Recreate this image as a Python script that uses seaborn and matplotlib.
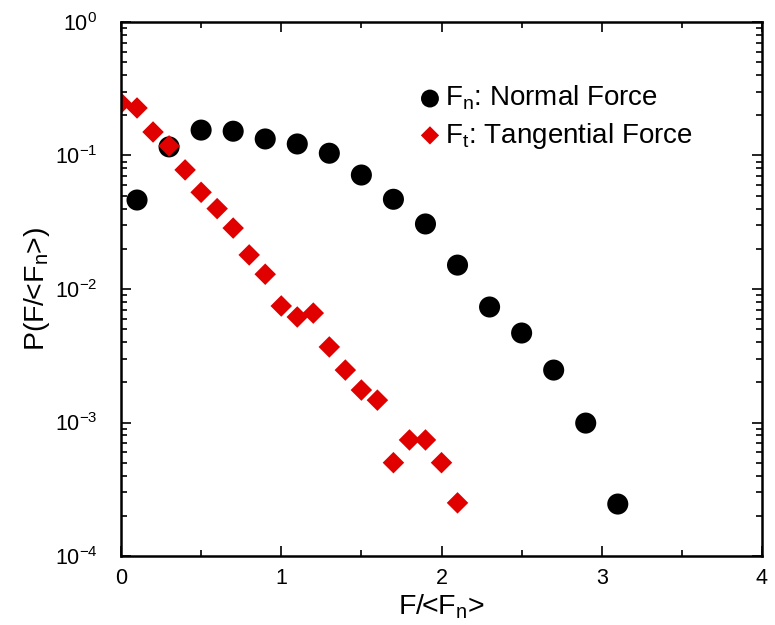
import matplotlib
matplotlib.use("Agg")
import matplotlib.pyplot as plt
import seaborn as sns
import pandas as pd
import numpy as np
from matplotlib.ticker import MultipleLocator, LogLocator, NullFormatter

# Data
fn_x = [0.1, 0.3, 0.5, 0.7, 0.9, 1.1, 1.3, 1.5, 1.7, 1.9, 2.1, 2.3, 2.5, 2.7, 2.9, 3.1]
fn_y = [0.0464, 0.116, 0.155, 0.152, 0.133, 0.122, 0.104, 0.0714, 0.047, 0.0307,
        0.0151, 0.00733, 0.00468, 0.00247, 0.00099, 0.000245]
ft_x = [0.0, 0.1, 0.2, 0.3, 0.4, 0.5, 0.6, 0.7, 0.8, 0.9, 1.0, 1.1, 1.2, 1.3, 1.4,
        1.5, 1.6, 1.7, 1.8, 1.9, 2.0, 2.1]
ft_y = [0.247, 0.227, 0.150, 0.118, 0.078, 0.053, 0.040, 0.0286, 0.018, 0.0129,
        0.00746, 0.00617, 0.0066, 0.00368, 0.00247, 0.00175, 0.00147, 0.0005,
        0.00074, 0.00074, 0.0005, 0.00025]
labels = [r"F$_\mathregular{n}$: Normal Force", r"F$_\mathregular{t}$: Tangential Force"]

sns.set_style("ticks")
plt.rcParams['font.family'] = ['Liberation Sans', 'DejaVu Sans']
plt.rcParams['mathtext.fontset'] = 'custom'
plt.rcParams['mathtext.rm'] = 'Liberation Sans'
plt.rcParams['mathtext.it'] = 'Liberation Sans:italic'
plt.rcParams['mathtext.bf'] = 'Liberation Sans:bold'
for k in ['text.color', 'axes.labelcolor', 'xtick.color', 'ytick.color', 'axes.edgecolor']:
    plt.rcParams[k] = 'black'

df = pd.DataFrame({
    "x": fn_x + ft_x,
    "y": fn_y + ft_y,
    "series": [labels[0]] * len(fn_x) + [labels[1]] * len(ft_x),
})

fig = plt.figure(figsize=(7.75, 6.25), dpi=100)
ax = fig.add_axes([121/775, 1 - 556/625, (762-121)/775, (556-22)/625])

sub0 = df[df.series == labels[0]]
sub1 = df[df.series == labels[1]]
sns.scatterplot(data=sub0, x="x", y="y", color="black", marker="o", s=230,
                edgecolor="none", ax=ax, label=labels[0])
sns.scatterplot(data=sub1, x="x", y="y", color="#e00000", marker="D", s=120,
                edgecolor="none", ax=ax, label=labels[1])

ax.set_yscale("log")
ax.set_xlim(0, 4)
ax.set_ylim(1e-4, 1)
ax.xaxis.set_major_locator(MultipleLocator(1))
ax.xaxis.set_minor_locator(MultipleLocator(0.5))
ax.yaxis.set_major_locator(LogLocator(base=10, numticks=10))
ax.yaxis.set_minor_locator(LogLocator(base=10, subs=np.arange(2, 10), numticks=10))
ax.yaxis.set_minor_formatter(NullFormatter())
ax.tick_params(which="both", direction="in", top=True, right=True, width=1.2)
ax.tick_params(which="major", length=7, labelsize=15.5)
ax.tick_params(which="minor", length=4)
ax.tick_params(axis="x", which="major", pad=9)
ax.tick_params(axis="y", which="major", pad=17)
for sp in ax.spines.values():
    sp.set_linewidth(1.8)

ax.set_xlabel(r"F/<F$_\mathregular{n}$>", fontsize=20.5, labelpad=2)
ax.set_ylabel(r"P(F/<F$_\mathregular{n}$>)", fontsize=20.5, labelpad=2)

leg = ax.legend(loc="upper left", bbox_to_anchor=(0.443, 0.905), frameon=False,
                fontsize=20, handletextpad=0.05, labelspacing=0.3, handlelength=1.0,
                markerscale=0.85, borderaxespad=0)

fig.savefig("out.png", dpi=100, facecolor="white")
